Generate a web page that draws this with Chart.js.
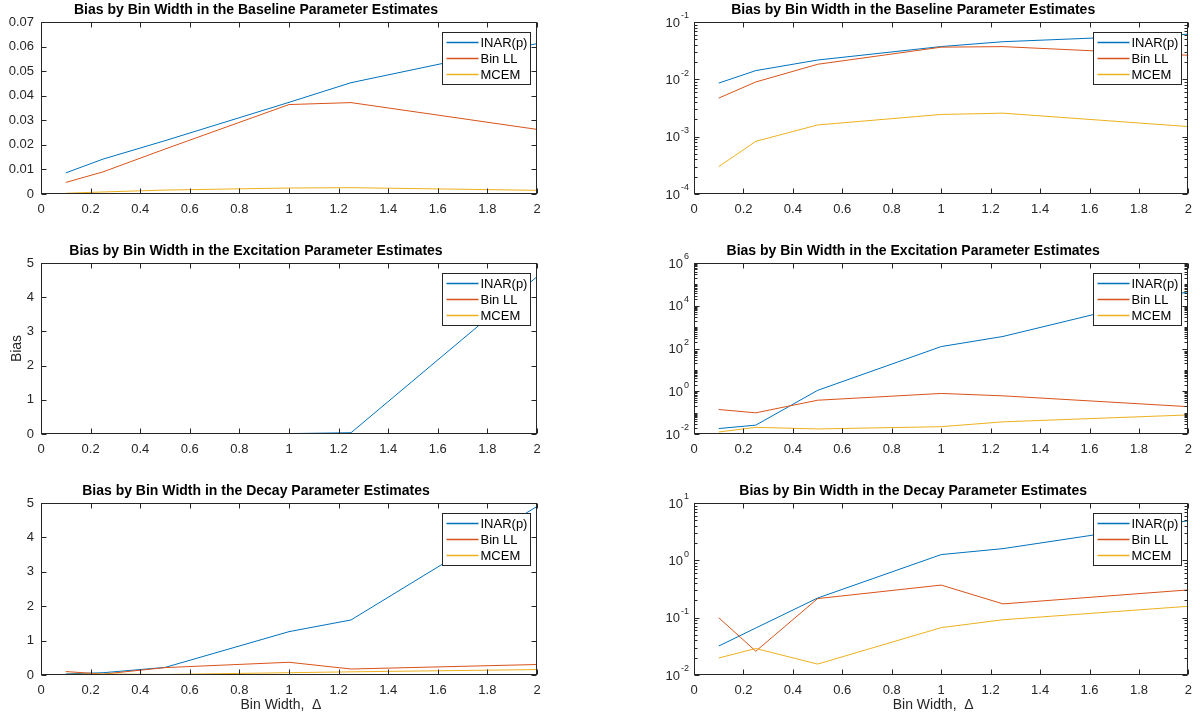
<!DOCTYPE html>
<html lang="en">
<head>
<meta charset="UTF-8">
<title>Bias by Bin Width</title>
<script src="https://cdn.jsdelivr.net/npm/chart.js@4.4.0/dist/chart.umd.min.js"></script>
<style>
    body { margin: 0; background: #ffffff; font-family: 'Liberation Sans', Arial, sans-serif; }
    #fig { position: relative; width: 1200px; height: 717px; }
    .panel { position: absolute; }
</style>
</head>
<body>
<div id="fig">
    <div class="panel" style="left:0;top:0;width:560px;height:220px"><canvas id="baseLin"></canvas></div>
    <div class="panel" style="left:600px;top:0;width:600px;height:220px"><canvas id="baseLog"></canvas></div>
    <div class="panel" style="left:0;top:240px;width:560px;height:220px"><canvas id="excLin"></canvas></div>
    <div class="panel" style="left:600px;top:240px;width:600px;height:220px"><canvas id="excLog"></canvas></div>
    <div class="panel" style="left:0;top:480px;width:560px;height:237px"><canvas id="decLin"></canvas></div>
    <div class="panel" style="left:600px;top:480px;width:600px;height:237px"><canvas id="decLog"></canvas></div>
</div>

<script>
// bin widths (x values) and series
const binWidths = [0.1, 0.25, 0.5, 1, 1.25, 2];
const seriesNames = ['INAR(p)', 'Bin LL', 'MCEM'];
const seriesColors = ['#0072BD', '#D95319', '#EDB120'];

const baselineInar  = [0.0086, 0.0142, 0.0217, 0.0373, 0.0453, 0.0612];
const baselineBinLL = [0.0047, 0.0090, 0.0183, 0.0364, 0.0372, 0.0263];
const baselineMcem  = [0.00030, 0.00083, 0.0016, 0.00244, 0.00257, 0.0015];

const excitationInar  = [0.018, 0.026, 1.1, 123, 366, 46000];
const excitationBinLL = [0.14, 0.098, 0.38, 0.79, 0.61, 0.19];
const excitationMcem  = [0.0124, 0.0205, 0.0172, 0.022, 0.037, 0.078];

const decayInar  = [0.032, 0.066, 0.22, 1.26, 1.6, 4.9];
const decayBinLL = [0.10, 0.026, 0.215, 0.37, 0.174, 0.305];
const decayMcem  = [0.0198, 0.029, 0.0155, 0.067, 0.092, 0.158];

// tick labels for the log panels
const baseLogTicks = [1e-4, 1e-3, 1e-2, 1e-1];
const excLogTicks = [1e-2, 1e0, 1e2, 1e4, 1e6];
const decLogTicks = [1e-2, 1e-1, 1e0, 1e1];

const axisColor = '#262626';
const fontFamily = "'Liberation Sans', Arial, sans-serif";

// draws the MATLAB style box, inward ticks, titles, log labels and legend
const matlabAxes = {
    id: 'matlabAxes',
    afterDraw(chart, args, opts) {
        const ctx = chart.ctx;
        const ca = chart.chartArea;
        const xs = chart.scales.x, ys = chart.scales.y;
        ctx.save();
        ctx.strokeStyle = axisColor;
        ctx.lineWidth = 1;

        const L = Math.round(ca.left) + 0.5, R = Math.round(ca.right) - 0.5;
        const T = Math.round(ca.top) + 0.5, B = Math.round(ca.bottom) - 0.5;
        ctx.strokeRect(L, T, R - L, B - T);

        ctx.beginPath();
        xs.ticks.forEach(t => {
            const px = Math.round(xs.getPixelForValue(t.value)) + 0.5;
            ctx.moveTo(px, B); ctx.lineTo(px, B - 5);
            ctx.moveTo(px, T); ctx.lineTo(px, T + 5);
        });
        ys.ticks.forEach(t => {
            const py = Math.round(ys.getPixelForValue(t.value)) + 0.5;
            ctx.moveTo(L, py); ctx.lineTo(L + 5, py);
            ctx.moveTo(R, py); ctx.lineTo(R - 5, py);
        });
        if (opts.log) {
            const lo = Math.round(Math.log10(ys.min)), hi = Math.round(Math.log10(ys.max));
            for (let e = lo; e < hi; e++) {
                for (let k = 1; k <= 9; k++) {
                    const v = k * Math.pow(10, e);
                    if (k === 1 && opts.ticks.includes(v)) continue;
                    const py = Math.round(ys.getPixelForValue(v)) + 0.5;
                    ctx.moveTo(L, py); ctx.lineTo(L + 3, py);
                    ctx.moveTo(R, py); ctx.lineTo(R - 3, py);
                }
            }
        }
        ctx.stroke();

        // log tick labels with superscript exponents
        if (opts.log) {
            ctx.fillStyle = axisColor;
            ctx.textBaseline = 'middle';
            opts.ticks.forEach(v => {
                const e = Math.round(Math.log10(v));
                const py = ys.getPixelForValue(v);
                ctx.font = '9px ' + fontFamily;
                const expTxt = e < 0 ? '-' + Math.abs(e) : String(e);
                const ew = ctx.measureText(expTxt).width;
                ctx.textAlign = 'right';
                ctx.fillText(expTxt, ca.left - 5, py - 6);
                ctx.font = '13px ' + fontFamily;
                ctx.fillText('10', ca.left - 6 - ew, py + 1);
            });
        }

        // title
        ctx.fillStyle = '#000000';
        ctx.font = 'bold 14px ' + fontFamily;
        ctx.textAlign = 'center';
        ctx.textBaseline = 'middle';
        ctx.fillText(opts.title, (ca.left + ca.right) / 2 + opts.titleShift, ca.top - 12);

        // axis titles
        ctx.fillStyle = axisColor;
        ctx.font = '14px ' + fontFamily;
        if (opts.xLabel) {
            ctx.fillText(opts.xLabel, (ca.left + ca.right) / 2 - 8, ca.bottom + 30);
        }
        if (opts.yLabel) {
            ctx.save();
            ctx.translate(17, (ca.top + ca.bottom) / 2);
            ctx.rotate(-Math.PI / 2);
            ctx.fillText(opts.yLabel, 0, 0);
            ctx.restore();
        }

        // legend box
        const bw = 88, bh = 52;
        const bx = Math.round(ca.right) - 7 - bw + 0.5, by = Math.round(ca.top) + 10 + 0.5;
        ctx.fillStyle = '#ffffff';
        ctx.fillRect(bx, by, bw, bh);
        ctx.strokeStyle = axisColor;
        ctx.strokeRect(bx, by, bw, bh);
        ctx.font = '13px ' + fontFamily;
        ctx.textAlign = 'left';
        seriesNames.forEach((name, i) => {
            const ry = by + 10 + i * 16;
            ctx.strokeStyle = seriesColors[i];
            ctx.lineWidth = 1.5;
            ctx.beginPath();
            ctx.moveTo(bx + 4, ry); ctx.lineTo(bx + 36, ry);
            ctx.stroke();
            ctx.fillStyle = '#000000';
            ctx.fillText(name, bx + 38, ry + 1);
        });
        ctx.restore();
    }
};

function makeChart(id, series, cfg, yScale) {
    return new Chart(document.getElementById(id), {
        type: 'line',
        data: {
            datasets: series.map((vals, i) => ({
                label: seriesNames[i],
                data: binWidths.map((x, j) => ({ x: x, y: vals[j] })),
                borderColor: seriesColors[i],
                borderWidth: 1,
                pointRadius: 0,
                tension: 0,
                fill: false,
                order: 2 - i
            }))
        },
        options: {
            responsive: true,
            maintainAspectRatio: false,
            animation: false,
            layout: { padding: { top: cfg.padTop, right: cfg.padRight, left: 0, bottom: 0 } },
            plugins: {
                legend: { display: false },
                tooltip: { enabled: false },
                matlabAxes: cfg
            },
            scales: {
                x: {
                    type: 'linear', min: 0, max: 2,
                    grid: { display: false, drawTicks: false },
                    border: { display: false },
                    ticks: {
                        stepSize: 0.2, padding: 8, color: axisColor,
                        font: { size: 13, family: fontFamily }, maxRotation: 0, autoSkip: false,
                        callback: v => String(Math.round(v * 10) / 10)
                    },
                    afterFit: s => { s.height = cfg.xHeight; }
                },
                y: Object.assign({
                    grid: { display: false, drawTicks: false },
                    border: { display: false },
                    afterFit: s => { s.width = cfg.yWidth; }
                }, yScale)
            }
        },
        plugins: [matlabAxes]
    });
}

function linY(max, step, fmt) {
    return {
        type: 'linear', min: 0, max: max,
        ticks: { stepSize: step, padding: 7, color: axisColor, font: { size: 13, family: fontFamily }, callback: fmt }
    };
}

function logY(ticks) {
    return {
        type: 'logarithmic', min: ticks[0], max: ticks[ticks.length - 1],
        afterBuildTicks: s => { s.ticks = ticks.map(v => ({ value: v })); },
        ticks: { callback: () => '', padding: 7 }
    };
}

const leftCfg = { padRight: 23, yWidth: 41, titleShift: -33 };
const rightCfg = { padRight: 10, yWidth: 94, titleShift: -28 };
const xTitle = 'Bin Width,  \u0394';

makeChart('baseLin', [baselineInar, baselineBinLL, baselineMcem],
    Object.assign({ title: 'Bias by Bin Width in the Baseline Parameter Estimates', padTop: 22, xHeight: 26 }, leftCfg),
    linY(0.07, 0.01));
makeChart('baseLog', [baselineInar, baselineBinLL, baselineMcem],
    Object.assign({ title: 'Bias by Bin Width in the Baseline Parameter Estimates', padTop: 22, xHeight: 26, log: true, ticks: baseLogTicks }, rightCfg),
    logY(baseLogTicks));

makeChart('excLin', [excitationInar, excitationBinLL, excitationMcem],
    Object.assign({ title: 'Bias by Bin Width in the Excitation Parameter Estimates', padTop: 23, xHeight: 26, yLabel: 'Bias' }, leftCfg),
    linY(50000, 10000, v => String(v / 10000)));
makeChart('excLog', [excitationInar, excitationBinLL, excitationMcem],
    Object.assign({ title: 'Bias by Bin Width in the Excitation Parameter Estimates', padTop: 23, xHeight: 26, log: true, ticks: excLogTicks }, rightCfg),
    logY(excLogTicks));

makeChart('decLin', [decayInar, decayBinLL, decayMcem],
    Object.assign({ title: 'Bias by Bin Width in the Decay Parameter Estimates', padTop: 23, xHeight: 42, xLabel: xTitle }, leftCfg),
    linY(5, 1));
makeChart('decLog', [decayInar, decayBinLL, decayMcem],
    Object.assign({ title: 'Bias by Bin Width in the Decay Parameter Estimates', padTop: 23, xHeight: 42, xLabel: xTitle, log: true, ticks: decLogTicks }, rightCfg),
    logY(decLogTicks));
</script>
</body>
</html>
